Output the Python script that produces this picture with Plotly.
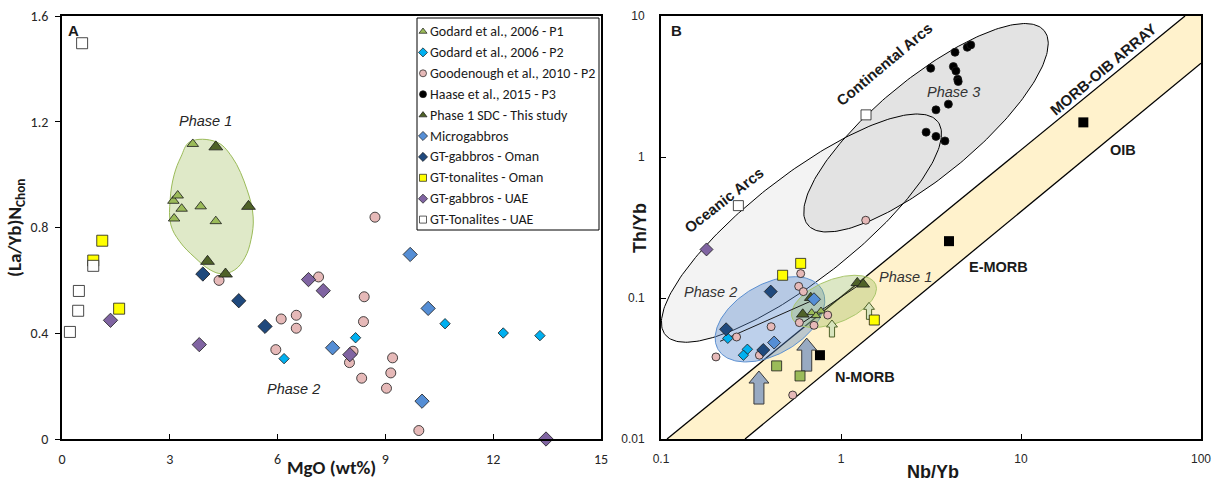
import numpy as np
import plotly.graph_objects as go

W, H = 1217, 485

# ---------------- Panel A : (La/Yb)N vs MgO ----------------
godard_p1_mgo = [3.64, 3.10, 3.22, 3.33, 3.12, 3.86, 4.28]
godard_p1_layb = [1.116, 0.901, 0.921, 0.871, 0.834, 0.880, 0.824]
godard_p2_mgo = [6.18, 8.17, 10.66, 12.28, 13.30]
godard_p2_layb = [0.304, 0.383, 0.436, 0.401, 0.391]
goodenough_mgo = [4.37, 5.95, 6.10, 6.52, 6.52, 7.14, 8.10, 8.00, 8.34, 8.39,
                  8.41, 8.71, 9.20, 9.15, 9.03, 9.93]
goodenough_layb = [0.600, 0.338, 0.454, 0.468, 0.419, 0.613, 0.332, 0.289, 0.230, 0.444,
                   0.538, 0.839, 0.307, 0.250, 0.192, 0.032]
sdc_mgo = [4.28, 5.19, 4.05, 4.55]
sdc_layb = [1.105, 0.880, 0.672, 0.624]
micro_mgo = [9.69, 10.19, 7.53, 10.02]
micro_layb = [0.698, 0.494, 0.345, 0.143]
gtgab_oman_mgo = [3.92, 4.92, 5.65]
gtgab_oman_layb = [0.624, 0.523, 0.426]
gtton_oman_mgo = [1.12, 0.87, 1.59]
gtton_oman_layb = [0.750, 0.675, 0.493]
gtgab_uae_mgo = [1.35, 3.82, 6.86, 7.27, 8.01, 13.47]
gtgab_uae_layb = [0.449, 0.357, 0.603, 0.561, 0.319, 0.0]
gtton_uae_mgo = [0.56, 0.87, 0.47, 0.45, 0.22]
gtton_uae_layb = [1.497, 0.655, 0.560, 0.485, 0.405]

# outline of the Phase 1 field
phase1_field_mgo = [3.56, 4.29, 4.73, 5.15, 5.32, 5.26, 5.09, 4.81, 4.45, 4.12,
                    3.70, 3.28, 3.03, 3.01, 3.12, 3.31]
phase1_field_layb = [1.124, 1.124, 1.067, 0.943, 0.840, 0.754, 0.686, 0.640, 0.625, 0.640,
                     0.686, 0.746, 0.810, 0.905, 0.999, 1.067]

# ---------------- Panel B : Th/Yb vs Nb/Yb ----------------
godard_p1_nb = [0.687, 0.774, 0.726]
godard_p1_th = [0.0787, 0.0808, 0.0750]
godard_p2_nb = [0.235, 0.302, 0.287]
godard_p2_th = [0.0518, 0.0433, 0.0393]
goodenough_nb = [0.597, 0.582, 0.618, 0.409, 0.263, 0.202, 0.352, 0.587, 0.708, 0.844, 0.539, 1.372]
goodenough_th = [0.149, 0.121, 0.111, 0.0626, 0.0529, 0.0382, 0.0393, 0.0669, 0.064, 0.0757, 0.0205, 0.356]
haase_nb = [3.15, 4.30, 5.03, 5.26, 4.21, 4.35, 4.45, 4.48, 3.95, 3.37, 2.97, 3.37, 3.78]
haase_th = [4.26, 5.53, 6.00, 6.24, 4.38, 4.08, 3.56, 3.43, 2.37, 2.16, 1.50, 1.40, 1.30]
sdc_nb = [0.613, 0.679, 1.232, 1.33]
sdc_th = [0.0766, 0.1005, 0.128, 0.125]
micro_nb = [0.708, 0.425]
micro_th = [0.098, 0.0483]
gtgab_oman_nb = [0.407, 0.230, 0.370]
gtgab_oman_th = [0.111, 0.060, 0.0428]
gtton_oman_nb = [0.597, 0.474, 1.531]
gtton_oman_th = [0.176, 0.145, 0.0698]
gtgab_uae_nb = [0.179]
gtgab_uae_th = [0.221]
gtton_uae_nb = [1.377, 0.269]
gtton_uae_th = [1.99, 0.452]
p1_squares_nb = [0.439, 0.592]
p1_squares_th = [0.033, 0.028]

# reference basalt compositions
ref_names = ["N-MORB", "E-MORB", "OIB"]
ref_nb = [0.764, 3.98, 22.2]
ref_th = [0.0393, 0.253, 1.76]

# MORB-OIB array bounding lines (Nb/Yb, Th/Yb end points)
array_upper_nb = [0.108, 81.5]
array_upper_th = [0.01, 10.0]
array_lower_nb = [0.293, 100.0]
array_lower_th = [0.01, 4.63]

# trend lines through the phase groups
trend_p2_nb = [0.213, 0.673]
trend_p2_th = [0.0493, 0.0944]
trend_p1_nb = [0.615, 1.325]
trend_p1_th = [0.0671, 0.129]

# vertical arrows (foot position)
big_arrow_nb = [0.35, 0.645]
big_arrow_th = [0.0177, 0.0303]
small_arrow_nb = [0.891, 1.431]
small_arrow_th = [0.0529, 0.0706]

# ---------------- geometry ----------------
A_L, A_R = 62, 601
B_L, B_R = 661, 1201
P_T, P_B = 16, 439
PX_DEC_X = (B_R - B_L) / 3.0
PX_DEC_Y = (P_B - P_T) / 3.0

FONT_A = "Calibri, Carlito, Lato, sans-serif"
FONT_B = "Arial, Liberation Sans, sans-serif"
EDGE = "#1a1a1a"


def px(x):
    return x / W


def py(y):
    return 1 - y / H


def log_ellipse(center, a, b, ang, n=241):
    """Ellipse drawn in screen pixels around a data centre on log-log axes."""
    t = np.linspace(0, 2 * np.pi, n)
    th = np.radians(ang)
    dx = a * np.cos(t) * np.cos(th) - b * np.sin(t) * np.sin(th)
    dy = a * np.cos(t) * np.sin(th) + b * np.sin(t) * np.cos(th)
    return (10 ** (np.log10(center[0]) + dx / PX_DEC_X),
            10 ** (np.log10(center[1]) + dy / PX_DEC_Y))


def block_arrow(foot_x, foot_y, sw, hw, hh, length):
    pts = [(-sw, 0), (sw, 0), (sw, length - hh), (hw, length - hh), (0, length),
           (-hw, length - hh), (-sw, length - hh), (-sw, 0)]
    xs = [10 ** (np.log10(foot_x) + p[0] / PX_DEC_X) for p in pts]
    ys = [10 ** (np.log10(foot_y) + p[1] / PX_DEC_Y) for p in pts]
    return xs, ys


fig = go.Figure()

# ---------------- Panel A ----------------
fx = phase1_field_mgo + phase1_field_mgo[:1]
fy = phase1_field_layb + phase1_field_layb[:1]
fig.add_trace(go.Scatter(x=fx, y=fy, mode="lines", fill="toself",
                         fillcolor="rgba(196,215,155,0.55)",
                         line=dict(color="#9BBB59", width=1, shape="spline", smoothing=1.1),
                         xaxis="x", yaxis="y", hoverinfo="skip", showlegend=False))

series = [
    ("Godard et al., 2006 - P1", "triangle-up", "#9BBB59", 10, 8,
     godard_p1_mgo, godard_p1_layb, godard_p1_nb, godard_p1_th),
    ("Godard et al., 2006 - P2", "diamond", "#00B0F0", 8, 8,
     godard_p2_mgo, godard_p2_layb, godard_p2_nb, godard_p2_th),
    ("Goodenough et al., 2010 - P2", "circle", "#E6B9B8", 10, 8,
     goodenough_mgo, goodenough_layb, goodenough_nb, goodenough_th),
    ("Haase et al., 2015 - P3", "circle", "#000000", 8, 8,
     [], [], haase_nb, haase_th),
    ("Phase 1 SDC - This study", "triangle-up", "#4F6228", 12, 11,
     sdc_mgo, sdc_layb, sdc_nb, sdc_th),
    ("Microgabbros", "diamond", "#558ED5", 11, 10,
     micro_mgo, micro_layb, micro_nb, micro_th),
    ("GT-gabbros - Oman", "diamond", "#1F497D", 11, 10,
     gtgab_oman_mgo, gtgab_oman_layb, gtgab_oman_nb, gtgab_oman_th),
    ("GT-tonalites - Oman", "square", "#FFFF00", 11, 10,
     gtton_oman_mgo, gtton_oman_layb, gtton_oman_nb, gtton_oman_th),
    ("GT-gabbros - UAE", "diamond", "#8064A2", 11, 10,
     gtgab_uae_mgo, gtgab_uae_layb, gtgab_uae_nb, gtgab_uae_th),
    ("GT-Tonalites - UAE", "square", "#FFFFFF", 11, 10,
     gtton_uae_mgo, gtton_uae_layb, gtton_uae_nb, gtton_uae_th),
]

for name, sym, col, sa, sb, xa, ya, xb, yb in series:
    if xa:
        fig.add_trace(go.Scatter(x=xa, y=ya, mode="markers", name=name,
                                 marker=dict(symbol=sym, size=sa, color=col,
                                             line=dict(color=EDGE, width=0.8)),
                                 xaxis="x", yaxis="y", cliponaxis=False, showlegend=False))

# ---------------- Panel B ----------------
band_x = [array_upper_nb[0], array_upper_nb[1], 100, array_lower_nb[1], array_lower_nb[0], array_upper_nb[0]]
band_y = [array_upper_th[0], array_upper_th[1], 10, array_lower_th[1], array_lower_th[0], array_upper_th[0]]
fig.add_trace(go.Scatter(x=band_x, y=band_y, mode="lines", fill="toself", fillcolor="#FFF2CC",
                         line=dict(width=0), xaxis="x2", yaxis="y2", hoverinfo="skip", showlegend=False))
for lx, ly in [(array_upper_nb, array_upper_th), (array_lower_nb, array_lower_th)]:
    fig.add_trace(go.Scatter(x=lx, y=ly, mode="lines", line=dict(color="black", width=1.3),
                             xaxis="x2", yaxis="y2", hoverinfo="skip", showlegend=False))

oce_x, oce_y = log_ellipse((0.603, 0.313), 173, 52, 38.0)
con_x, con_y = log_ellipse((2.966, 1.612), 153, 49, 39.4)
p2_x, p2_y = log_ellipse((0.403, 0.0706), 60, 35, 30)
p1_x, p1_y = log_ellipse((0.914, 0.0946), 45, 21.5, 22)

fig.add_trace(go.Scatter(x=oce_x, y=oce_y, mode="lines", fill="toself", fillcolor="#F3F3F3",
                         line=dict(width=0), xaxis="x2", yaxis="y2", hoverinfo="skip", showlegend=False))
fig.add_trace(go.Scatter(x=con_x, y=con_y, mode="lines", fill="toself", fillcolor="#E3E3E3",
                         line=dict(color="black", width=1), xaxis="x2", yaxis="y2",
                         hoverinfo="skip", showlegend=False))
fig.add_trace(go.Scatter(x=oce_x, y=oce_y, mode="lines", line=dict(color="black", width=1),
                         xaxis="x2", yaxis="y2", hoverinfo="skip", showlegend=False))
fig.add_trace(go.Scatter(x=p2_x, y=p2_y, mode="lines", fill="toself", fillcolor="rgba(91,138,205,0.40)",
                         line=dict(color="#5B8FD0", width=1), xaxis="x2", yaxis="y2",
                         hoverinfo="skip", showlegend=False))
fig.add_trace(go.Scatter(x=p1_x, y=p1_y, mode="lines", fill="toself", fillcolor="rgba(155,187,89,0.35)",
                         line=dict(color="#A9C66B", width=1), xaxis="x2", yaxis="y2",
                         hoverinfo="skip", showlegend=False))
for tx, ty in [(trend_p2_nb, trend_p2_th), (trend_p1_nb, trend_p1_th)]:
    fig.add_trace(go.Scatter(x=tx, y=ty, mode="lines", line=dict(color="#1a1a1a", width=1),
                             xaxis="x2", yaxis="y2", hoverinfo="skip", showlegend=False))

for ax_, ay_ in zip(big_arrow_nb, big_arrow_th):
    xs, ys = block_arrow(ax_, ay_, 5, 10, 12, 33)
    fig.add_trace(go.Scatter(x=xs, y=ys, mode="lines", fill="toself", fillcolor="#98AAC2",
                             line=dict(color="#3a3a3a", width=1), xaxis="x2", yaxis="y2",
                             hoverinfo="skip", showlegend=False))
for ax_, ay_ in zip(small_arrow_nb, small_arrow_th):
    xs, ys = block_arrow(ax_, ay_, 2.6, 5.5, 7, 17)
    fig.add_trace(go.Scatter(x=xs, y=ys, mode="lines", fill="toself", fillcolor="#D7E4BD",
                             line=dict(color="#4F6228", width=1), xaxis="x2", yaxis="y2",
                             hoverinfo="skip", showlegend=False))

fig.add_trace(go.Scatter(x=ref_nb, y=ref_th, mode="markers",
                         marker=dict(symbol="square", size=10, color="black"),
                         xaxis="x2", yaxis="y2", hoverinfo="skip", showlegend=False))
fig.add_trace(go.Scatter(x=p1_squares_nb, y=p1_squares_th, mode="markers",
                         marker=dict(symbol="square", size=10, color="#9BBB59",
                                     line=dict(color=EDGE, width=0.8)),
                         xaxis="x2", yaxis="y2", hoverinfo="skip", showlegend=False))

for name, sym, col, sa, sb, xa, ya, xb, yb in series:
    fig.add_trace(go.Scatter(x=xb, y=yb, mode="markers", name=name,
                             marker=dict(symbol=sym, size=sb, color=col,
                                         line=dict(color=EDGE, width=0.8)),
                             xaxis="x2", yaxis="y2", showlegend=False))

# ---------------- legend (panel A) ----------------
LEG_L, LEG_T, LEG_R, LEG_B = 417, 18, 599, 230
row0, row_step = 31.5, 20.9
rows = [row0 + i * row_step for i in range(len(series))]
fig.add_shape(type="rect", xref="paper", yref="paper", x0=px(LEG_L), x1=px(LEG_R),
              y0=py(LEG_B), y1=py(LEG_T), line=dict(color="black", width=1),
              fillcolor="white", layer="below")
fig.add_trace(go.Scatter(x=[423] * len(series), y=rows, mode="markers",
                         marker=dict(symbol=[s[1] for s in series], size=7,
                                     color=[s[2] for s in series],
                                     line=dict(color=EDGE, width=0.7)),
                         xaxis="x3", yaxis="y3", hoverinfo="skip", showlegend=False))
annotations = []
for s, ry in zip(series, rows):
    annotations.append(dict(x=px(427.5), y=py(ry), xref="paper", yref="paper", text=s[0],
                            showarrow=False, xanchor="left", yanchor="middle",
                            font=dict(family=FONT_A, size=14, color="#1a1a1a")))


# ---------------- text labels ----------------
def label(x, y, text, size=14, family=FONT_B, angle=0, bold=False, italic=False, color="#1a1a1a"):
    t = text
    if bold:
        t = f"<b>{t}</b>"
    if italic:
        t = f"<i>{t}</i>"
    annotations.append(dict(x=px(x), y=py(y), xref="paper", yref="paper", text=t, showarrow=False,
                            textangle=angle, xanchor="center", yanchor="middle",
                            font=dict(family=family, size=size, color=color)))


label(73, 30, "A", 15, FONT_B, bold=True)
label(676, 30, "B", 15, FONT_B, bold=True)
annotations.append(dict(x=3.98, y=1.204, xref="x", yref="y", text="<i>Phase 1</i>", showarrow=False,
                        font=dict(family=FONT_B, size=14.5, color="#262626")))
annotations.append(dict(x=6.44, y=0.191, xref="x", yref="y", text="<i>Phase 2</i>", showarrow=False,
                        font=dict(family=FONT_B, size=14.5, color="#262626")))
label(331.5, 467, "MgO (wt%)", 19, FONT_A, bold=True)
label(16, 228, "(La/Yb)N<sub>Chon</sub>", 19, FONT_A, angle=-90, bold=True)
label(933, 472, "Nb/Yb", 18, FONT_B, bold=True)
label(640, 228, "Th/Yb", 18, FONT_B, angle=-90, bold=True)
label(723, 200, "Oceanic Arcs", 15, FONT_B, angle=-38, bold=True)
label(884, 65, "Continental Arcs", 15, FONT_B, angle=-40, bold=True)
label(1103, 70, "MORB-OIB ARRAY", 15, FONT_B, angle=-40, bold=True)
label(953, 92, "Phase 3", 14.5, FONT_B, italic=True, color="#333333")
label(710, 292, "Phase 2", 14.5, FONT_B, italic=True, color="#333333")
label(905, 277, "Phase 1", 14.5, FONT_B, italic=True, color="#333333")
label(865, 377, "N-MORB", 14.5, FONT_B, bold=True)
label(998, 267, "E-MORB", 14.5, FONT_B, bold=True)
label(1123, 150, "OIB", 14.5, FONT_B, bold=True)

axis_common = dict(showline=True, linecolor="black", linewidth=1.8, mirror=True,
                   showgrid=False, zeroline=False, ticklen=5, tickwidth=1.2, tickcolor="black")

fig.update_layout(
    width=W, height=H, margin=dict(l=0, r=0, t=0, b=0, autoexpand=False),
    paper_bgcolor="white", plot_bgcolor="rgba(0,0,0,0)", showlegend=False,
    xaxis=dict(domain=[px(A_L), px(A_R)], range=[0, 15], tickvals=list(range(0, 16, 3)),
               ticks="inside", anchor="y", ticklabelstandoff=6,
               tickfont=dict(family=FONT_A, size=14, color="#262626"), **axis_common),
    yaxis=dict(domain=[py(P_B), py(P_T)], range=[0, 1.6], tickvals=[0, 0.4, 0.8, 1.2, 1.6],
               ticktext=["0", "0.4", "0.8", "1.2", "1.6"], ticks="outside", anchor="x",
               ticklabelstandoff=4,
               tickfont=dict(family=FONT_A, size=14, color="#262626"), **axis_common),
    xaxis2=dict(domain=[px(B_L), px(B_R)], type="log", range=[-1, 2], tickvals=[0.1, 1, 10, 100],
                ticktext=["0.1", "1", "10", "100"], ticks="inside", anchor="y2", ticklabelstandoff=8,
                tickfont=dict(family=FONT_B, size=12, color="#262626"), **axis_common),
    yaxis2=dict(domain=[py(P_B), py(P_T)], type="log", range=[-2, 1], tickvals=[0.01, 0.1, 1, 10],
                ticktext=["0.01", "0.1", "1", "10"], ticks="inside", anchor="x2", ticklabelstandoff=12,
                tickfont=dict(family=FONT_B, size=12, color="#262626"), **axis_common),
    xaxis3=dict(domain=[0, 1], range=[0, W], visible=False, fixedrange=True, anchor="y3"),
    yaxis3=dict(domain=[0, 1], range=[H, 0], visible=False, fixedrange=True, anchor="x3"),
    annotations=annotations,
)

fig.write_html("out.html")
